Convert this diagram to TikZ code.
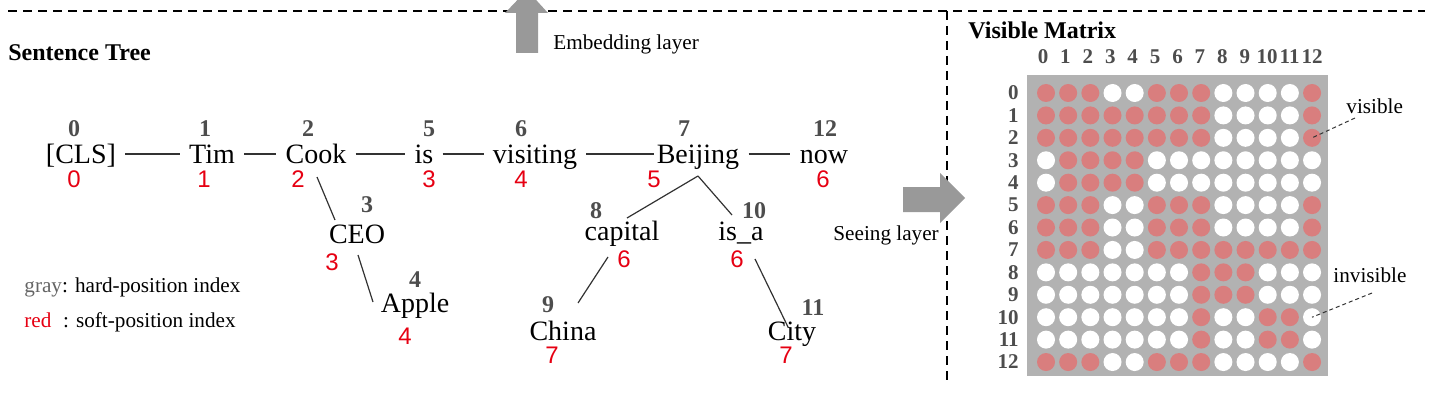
\documentclass[tikz,border=0pt]{standalone}
\usepackage{fontspec}
\setmainfont{Liberation Serif}
\setsansfont{Liberation Sans}
\usepackage{xcolor}
\usepackage{tikz}
\usetikzlibrary{positioning,calc}

\definecolor{hardgray}{RGB}{77,77,77}
\definecolor{softred}{RGB}{230,0,18}
\definecolor{visred}{RGB}{217,126,126}
\definecolor{matbg}{RGB}{178,178,178}
\definecolor{arrowgray}{RGB}{153,153,153}
\definecolor{linegray}{RGB}{50,50,50}
\definecolor{legendgray}{RGB}{100,100,100}

\begin{document}
\begin{tikzpicture}[
    x=0.5pt, y=-0.5pt,
    word/.style={font=\fontsize{14}{16}\selectfont, anchor=base, inner xsep=4.5pt, inner ysep=0pt, text height=10pt, text depth=1pt},
    hard/.style={font=\bfseries\fontsize{12}{14}\selectfont, text=hardgray, anchor=base, inner sep=0pt},
    soft/.style={font=\sffamily\fontsize{12}{14}\selectfont, text=softred, anchor=base, inner sep=0pt},
    link/.style={draw=linegray, line width=0.6pt},
    note/.style={font=\fontsize{10.6}{12}\selectfont, anchor=base west, inner sep=0pt},
    heading/.style={font=\bfseries\fontsize{12}{14}\selectfont, anchor=base west, inner sep=0pt},
    divider/.style={line width=1pt, dash pattern=on 4.5pt off 3pt},
    bigarrow/.style={fill=arrowgray},
    cell/.style={circle, minimum size=9pt, inner sep=0pt},
    idx/.style={font=\bfseries\fontsize{10.5}{12}\selectfont, text=hardgray, inner sep=0pt},
    leader/.style={draw=linegray, line width=0.5pt, dash pattern=on 2pt off 1.5pt}
]
\useasboundingbox (0,0) rectangle (1440,401);
\clip (0,0) rectangle (1440,401);

% frame lines
\draw[divider] (8,11) -- (1425,11);
\draw[divider] (947,11) -- (947,383);

% layer arrows
\fill[bigarrow] (516,53) -- (516,13) -- (505,13) -- (527,-10) -- (548,13) -- (538,13) -- (538,53) -- cycle;
\fill[bigarrow] (903,187) -- (940,187) -- (940,173) -- (965,198) -- (940,223) -- (940,212) -- (903,212) -- cycle;
\node[note] (emb) at (553,50) {Embedding layer};
\node[note] (see) at (833,240) {Seeing layer};

% sentence tree
\node[heading] (treeTitle) at (8,61) {Sentence Tree};

\node[word] (cls) at (81,163) {[CLS]};
\node[word] (tim) at (212,163) {Tim};
\node[word] (cook) at (316,163) {Cook};
\node[word] (isw) at (424,163) {is};
\node[word] (visit) at (535,163) {visiting};
\node[word] (beij) at (698,163) {Beijing};
\node[word] (now) at (824,163) {now};
\node[word] (ceo) at (357,243) {CEO};
\node[word] (apple) at (415,312) {Apple};
\node[word] (capital) at (622,240) {capital};
\node[word] (isa) at (741,240) {is\_a};
\node[word] (china) at (563,340) {China};
\node[word] (city) at (792,340) {City};

\node[hard] (h-cls) at (74,137) {0};
\node[hard] (h-tim) at (205,137) {1};
\node[hard] (h-cook) at (308,137) {2};
\node[hard] (h-is) at (429,137) {5};
\node[hard] (h-visit) at (521,137) {6};
\node[hard] (h-beij) at (684,137) {7};
\node[hard] (h-now) at (825,137) {12};
\node[hard] (h-ceo) at (367,213) {3};
\node[hard] (h-apple) at (415,287) {4};
\node[hard] (h-capital) at (596,218) {8};
\node[hard] (h-isa) at (754,218) {10};
\node[hard] (h-china) at (548,312) {9};
\node[hard] (h-city) at (813,315) {11};

\node[soft] (s-cls) at (74,187) {0};
\node[soft] (s-tim) at (204,187) {1};
\node[soft] (s-cook) at (298,187) {2};
\node[soft] (s-is) at (429,187) {3};
\node[soft] (s-visit) at (521,187) {4};
\node[soft] (s-beij) at (654,187) {5};
\node[soft] (s-now) at (823,187) {6};
\node[soft] (s-ceo) at (332,270) {3};
\node[soft] (s-apple) at (405,344) {4};
\node[soft] (s-capital) at (624,267) {6};
\node[soft] (s-isa) at (737,267) {6};
\node[soft] (s-china) at (552,363) {7};
\node[soft] (s-city) at (786,363) {7};

\draw[link] (cls) -- (tim);
\draw[link] (tim) -- (cook);
\draw[link] (cook) -- (isw);
\draw[link] (isw) -- (visit);
\draw[link, shorten >=-3.5pt] (visit) -- (beij);
\draw[link] (beij) -- (now);
\draw[link] ([shift={(1,14)}]cook.base) -- ([shift={(-22,-23)}]ceo.base);
\draw[link] ([shift={(1,12)}]ceo.base) -- ([shift={(-42,-10)}]apple.base);
\draw[link] ([shift={(0,13)}]beij.base) -- ([shift={(5,-22)}]capital.base);
\draw[link] ([shift={(0,13)}]beij.base) -- ([shift={(-9,-25)}]isa.base);
\draw[link] ([shift={(-14,17)}]capital.base) -- ([shift={(15,-37)}]china.base);
\draw[link] ([shift={(14,19)}]isa.base) -- ([shift={(-4,-13)}]city.base);

% legend
\node[note] (lgGray) at (24,292) {\textcolor{legendgray}{gray}: hard-position index};
\node[note] (lgRed) at (24,327) {\textcolor{softred}{red}\hspace{0.55em}: soft-position index};

% visible matrix
\node[heading] (matTitle) at (968,39) {Visible Matrix};
\fill[matbg] (1027,75) rectangle (1328,376);
\foreach \row/\bits in {
    0/{1,1,1,0,0,1,1,1,0,0,0,0,1},
    1/{1,1,1,1,1,1,1,1,0,0,0,0,1},
    2/{1,1,1,1,1,1,1,1,0,0,0,0,1},
    3/{0,1,1,1,1,0,0,0,0,0,0,0,0},
    4/{0,1,1,1,1,0,0,0,0,0,0,0,0},
    5/{1,1,1,0,0,1,1,1,0,0,0,0,1},
    6/{1,1,1,0,0,1,1,1,0,0,0,0,1},
    7/{1,1,1,0,0,1,1,1,1,1,1,1,1},
    8/{0,0,0,0,0,0,0,1,1,1,0,0,0},
    9/{0,0,0,0,0,0,0,1,1,1,0,0,0},
    10/{0,0,0,0,0,0,0,1,0,0,1,1,0},
    11/{0,0,0,0,0,0,0,1,0,0,1,1,0},
    12/{1,1,1,0,0,1,1,1,0,0,0,0,1}} {
  \node[idx, anchor=east] (r-\row) at (1019,{93+22.42*\row}) {\row};
  \foreach \b [count=\col from 0] in \bits {
    \ifnum\b=1 \def\cellcol{visred}\else\def\cellcol{white}\fi
    \node[cell, fill=\cellcol] (c-\row-\col) at ({1046+22.17*\col},{93+22.42*\row}) {};
  }
}
\foreach \col in {0,...,12}
  \node[idx, anchor=base] (k-\col) at ({1046+22.17*\col-3+0.25*\col},64) {\col};

\node[note] (vis) at (1346,113) {visible};
\node[note] (invis) at (1333,282) {invisible};
\draw[leader] ([shift={(9,5)}]vis.base west) -- (c-2-12.center);
\draw[leader] ([shift={(39,11)}]invis.base west) -- (c-10-12.center);
\end{tikzpicture}
\end{document}
